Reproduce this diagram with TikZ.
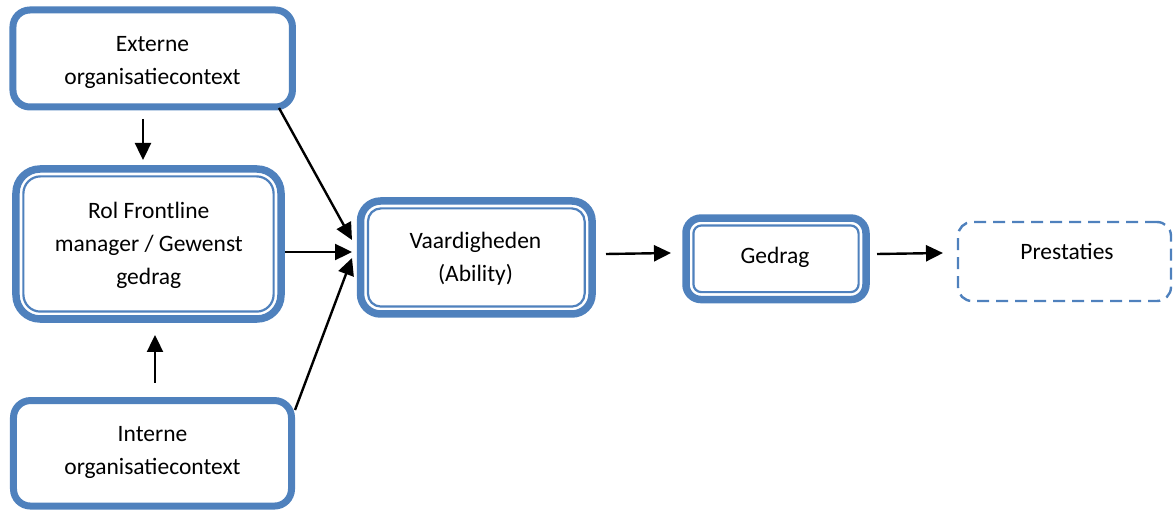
\documentclass[tikz,border=0pt]{standalone}
\usepackage{fontspec}
\setmainfont{Carlito}
\usetikzlibrary{arrows.meta}
\definecolor{boxblue}{HTML}{4F81BD}
\tikzset{
  frame/.style={draw=boxblue, line width=7bp, fill=white, inner sep=0pt},
  dframe/.style={draw=boxblue, line width=7.5bp, fill=white, inner sep=0pt},
  innerline/.style={draw=boxblue, line width=2.2bp, inner sep=0pt},
  dashframe/.style={draw=boxblue, line width=2.4bp, dash pattern=on 12bp off 7bp, inner sep=0pt},
  boxtext/.style={font=\fontsize{23.5bp}{33bp}\selectfont, align=center, inner sep=0pt, anchor=base},
  arr/.style={-{Triangle[length=17bp,width=16bp]}, line width=2.4bp, black}
}
\begin{document}
\begin{tikzpicture}[x=1bp, y=-1bp]
\useasboundingbox (0,0) rectangle (1173,511);

% boxes
\node[frame, minimum width=279.5bp, minimum height=97bp, rounded corners=17bp] (ext) at (152.7,58.5) {};
\node[frame, minimum width=278bp, minimum height=105.5bp, rounded corners=17bp] (int) at (152.5,453.3) {};
\node[dframe, minimum width=265bp, minimum height=150bp, rounded corners=24bp] (rol) at (148.5,244) {};
\node[dframe, minimum width=231.5bp, minimum height=113bp, rounded corners=20bp] (vaard) at (476.3,257.5) {};
\node[dframe, minimum width=180bp, minimum height=81.5bp, rounded corners=15bp] (ged) at (776,258.8) {};
\node[dashframe, minimum width=213bp, minimum height=79bp, rounded corners=14bp] (prest) at (1064.5,261.5) {};

% thin inner lines of the double frames
\node[innerline, minimum width=250.2bp, minimum height=135.2bp, rounded corners=17bp] (rolIn) at (rol.center) {};
\node[innerline, minimum width=216.7bp, minimum height=98.2bp, rounded corners=13bp] (vaardIn) at (vaard.center) {};
\node[innerline, minimum width=165.2bp, minimum height=66.7bp, rounded corners=8bp] (gedIn) at (ged.center) {};

% texts (anchored on the baseline of the last line)
\node[boxtext] (extT) at (152.5,84.7) {Externe\\organisatiecontext};
\node[boxtext] (rolT) at (148.8,284.3) {Rol Frontline\\manager / Gewenst\\gedrag};
\node[boxtext] (vaardT) at (475.5,281.3) {Vaardigheden\\(Ability)};
\node[boxtext] (gedT) at (775,263.3) {Gedrag};
\node[boxtext] (prestT) at (1067,259.3) {Prestaties};
\node[boxtext] (intT) at (152.5,474.7) {Interne\\organisatiecontext};

% arrow end points
\coordinate (extDown) at (143,119);
\coordinate (rolTop) at (143,160);
\coordinate (intUp) at (155,383);
\coordinate (rolBottom) at (155,335);
\coordinate (extCorner) at (279,108);
\coordinate (vaardIn1) at (352,240);
\coordinate (rolOut) at (285,252);
\coordinate (vaardIn2) at (352,252);
\coordinate (intCorner) at (295,410);
\coordinate (vaardIn3) at (352,258);
\coordinate (vaardOut) at (606,254);
\coordinate (gedArrIn) at (671,253);
\coordinate (gedOut) at (877,254);
\coordinate (prestIn) at (943,253);

% connectors
\draw[arr] (extDown) -- (rolTop);
\draw[arr] (intUp) -- (rolBottom);
\draw[arr] (extCorner) -- (vaardIn1);
\draw[arr] (rolOut) -- (vaardIn2);
\draw[arr] (intCorner) -- (vaardIn3);
\draw[arr] (vaardOut) -- (gedArrIn);
\draw[arr] (gedOut) -- (prestIn);
\end{tikzpicture}
\end{document}
